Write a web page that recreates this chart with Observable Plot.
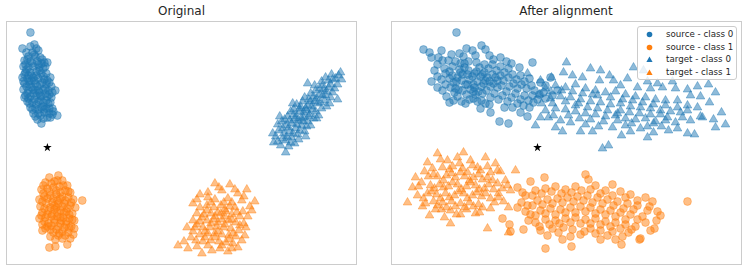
<!DOCTYPE html>
<html><head><meta charset="utf-8">
<script src="https://cdn.jsdelivr.net/npm/d3@7"></script>
<script src="https://cdn.jsdelivr.net/npm/@observablehq/plot@0.6"></script>
<style>
body{margin:0;background:#fff;font-family:"DejaVu Sans",sans-serif;}
#wrap{position:relative;width:748px;height:271px;overflow:hidden;background:#fff}
.title{position:absolute;top:4px;font-size:12px;line-height:14px;text-align:center;color:#262626;white-space:nowrap}
.panel{position:absolute;top:20px}
.panel svg{display:block;background:transparent}
#legend{position:absolute;left:637px;top:26px;width:98px;height:52px;border:1px solid #cccccc;border-radius:3px;background:rgba(255,255,255,0.8);font-size:8.7px;color:#262626}
#legend .row{position:absolute;left:0;height:12px;line-height:12px;white-space:nowrap}
#legend svg{position:absolute;left:8px;top:3px}
#legend span{position:absolute;left:28px;top:0}
</style></head><body>
<div id="wrap"></div>
<script>
const titles = ["Original", "After alignment"];
const legendLabels = ["source - class 0", "source - class 1", "target - class 0", "target - class 1"];
// axis limits (data units)
const origXLim = [-41, 310], origYLim = [-117, 126];
const alignXLim = [-146, 204], alignYLim = [-117, 126];
const starPoint = [[0, 0]];

// ---- Original ----
const origSource0 = [[-17,115],[-25,99],[-13,103],[-17,101],[-21,95],[-15,95],[-9,97],[-19,91],[-12,91],[-7,90],[-23,87],[-17,86],[-10,86],[-3,85],[0,85],[-24,81],[-19,80],[-14,81],[-8,80],[-4,79],[-22,75],[-17,75],[-11,76],[-6,74],[-1,74],[3,70],[-25,70],[-20,69],[-14,70],[-9,69],[-3,68],[-23,64],[-18,63],[-12,64],[-7,63],[-1,63],[4,61],[-24,58],[-19,57],[-14,58],[-9,57],[-4,58],[1,57],[8,57],[-22,52],[-17,51],[-11,52],[-6,51],[0,51],[4,50],[-20,46],[-15,45],[-9,46],[-4,45],[1,44],[-17,40],[-12,39],[-6,40],[-1,39],[5,39],[-14,34],[-9,34],[-3,35],[2,34],[6,36],[10,32],[-10,28],[-6,24],[0,30],[5,33],[-12,57],[-16,67],[-7,52],[-11,72],[-19,49],
  [-20,88],[-13,93],[-5,88],[-22,83],[-15,84],[-9,83],[-2,81],[-21,78],[-16,72],[-8,77],[-4,71],[0,67],[-23,73],[-18,66],[-13,67],[-5,65],[2,65],[-21,61],[-16,60],[-10,61],[-2,59],[5,55],[-20,54],[-14,54],[-8,55],[-2,54],[2,53],[-23,50],[-13,48],[-7,47],[-1,47],[3,45],[-18,44],[-11,43],[-4,41],[-15,38],[-9,38],[-3,38],[2,39],[-12,31],[-7,32],[-4,29],[3,30],[-24,66],[-11,99],[-6,84],[-19,72]];
const origSource1 = [[11,-28],[2,-30],[-2,-35],[7,-34],[15,-33],[20,-38],[-6,-42],[0,-41],[6,-40],[12,-39],[18,-43],[23,-45],[-8,-52],[-3,-49],[3,-48],[9,-47],[15,-49],[21,-50],[26,-52],[35,-53],[-7,-59],[-1,-56],[5,-55],[11,-56],[17,-56],[23,-58],[28,-60],[-5,-65],[1,-63],[7,-62],[13,-63],[19,-64],[25,-66],[-8,-71],[-2,-70],[4,-69],[10,-69],[16,-70],[22,-71],[27,-73],[-5,-77],[1,-76],[7,-75],[13,-76],[19,-77],[24,-79],[-5,-83],[3,-82],[9,-82],[15,-84],[21,-85],[27,-81],[3,-89],[11,-88],[15,-91],[23,-91],[2,-100],[8,-99],[20,-97],[10,-53],[5,-67],[14,-73],[0,-79],[9,-60],
  [4,-36],[10,-33],[-4,-38],[16,-38],[9,-43],[2,-44],[-4,-46],[21,-44],[13,-45],[6,-51],[-5,-54],[18,-53],[24,-55],[0,-51],[13,-51],[7,-58],[-3,-61],[15,-59],[20,-61],[3,-60],[-6,-68],[10,-65],[22,-67],[17,-65],[0,-67],[7,-72],[13,-70],[25,-72],[-3,-74],[19,-74],[4,-78],[11,-79],[17,-80],[-2,-81],[22,-80],[6,-85],[12,-86],[18,-88],[8,-92],[26,-87]];
const origTarget0 = [[294,75],[289,69],[279,70],[284,63],[276,62],[261,64],[291,48],[286,55],[280,56],[273,53],[267,51],[262,48],[256,46],[250,43],[246,44],[278,47],[271,44],[265,41],[259,39],[253,36],[247,33],[241,31],[233,31],[283,44],[275,39],[269,36],[263,33],[257,30],[251,27],[245,24],[239,22],[231,23],[267,29],[261,26],[255,22],[249,19],[243,16],[237,14],[229,11],[258,16],[251,13],[245,10],[239,7],[227,5],[242,1],[239,-5],[234,2],[248,4],[272,32],[264,46],[279,52],[257,35],[250,31],[264,22],[253,39],[288,59],[269,57],[243,27],[236,19],[255,29],[273,59],[282,67],[264,54],
  [285,73],[275,66],[268,62],[282,60],[291,63],[277,58],[270,49],[258,50],[284,50],[276,52],[261,42],[268,46],[254,41],[247,38],[260,37],[266,38],[274,45],[280,41],[244,36],[238,28],[248,29],[256,26],[262,31],[270,29],[242,20],[250,23],[235,26],[232,17],[240,11],[253,17],[260,21],[246,14],[231,6],[236,9],[252,8],[244,5],[226,14],[259,11],[286,68],[295,68],[292,72]];
const origTarget1 = [[168,-36],[183,-37],[200,-42],[153,-47],[175,-43],[191,-46],[208,-54],[146,-56],[161,-50],[168,-52],[181,-51],[195,-53],[203,-59],[153,-60],[160,-58],[167,-60],[174,-58],[188,-60],[196,-64],[150,-66],[157,-67],[164,-66],[171,-65],[179,-64],[185,-67],[193,-69],[201,-69],[146,-73],[153,-74],[160,-73],[167,-72],[175,-72],[182,-73],[189,-75],[197,-76],[148,-80],[156,-80],[163,-80],[170,-79],[177,-80],[184,-81],[192,-83],[146,-84],[153,-87],[161,-86],[168,-86],[175,-87],[182,-88],[189,-89],[198,-88],[131,-98],[141,-101],[149,-93],[156,-94],[164,-93],[172,-94],[179,-95],[186,-96],[155,-106],[165,-103],[181,-104],[191,-100],[173,-101],[178,-69],[171,-75],[183,-59],
  [172,-40],[188,-42],[161,-45],[197,-49],[150,-52],[177,-55],[164,-55],[185,-55],[190,-65],[178,-62],[160,-63],[155,-70],[168,-69],[185,-72],[174,-66],[199,-80],[186,-86],[171,-84],[158,-84],[150,-77],[164,-76],[178,-77],[193,-78],[144,-90],[158,-90],[168,-90],[182,-92],[195,-93],[161,-98],[175,-98],[137,-94],[150,-99],[185,-101],[205,-63],[140,-80]];

// ---- After alignment ----
const alignSource0 = [[-81,115],[-114,98],[-106,90],[-96,97],[-89,87],[-78,94],[-71,99],[-65,97],[-56,102],[-48,92],[-37,90],[-26,84],[-5,85],[-100,83],[-93,79],[-85,81],[-77,84],[-69,86],[-61,85],[-53,83],[-45,83],[-37,81],[-29,79],[-100,71],[-92,74],[-85,72],[-77,75],[-69,77],[-61,76],[-53,75],[-45,73],[-37,72],[-29,70],[-21,68],[-13,66],[3,65],[13,70],[-100,60],[-92,63],[-84,65],[-76,67],[-68,68],[-60,66],[-52,67],[-44,64],[-36,62],[-28,61],[-20,59],[-11,59],[-3,57],[6,55],[15,52],[-91,51],[-83,55],[-75,57],[-67,58],[-59,56],[-51,57],[-43,54],[-35,52],[-26,50],[-17,48],[-9,47],[0,48],[8,49],[-76,46],[-68,48],[-60,46],[-52,44],[-25,40],[-14,42],[-4,45],[-10,31],[-47,35],[-38,26],[-29,24],[-84,47],[-62,53],[-72,63],[-56,61],[-80,70],[-65,71],[-49,79],[-73,80],[-82,59],[-64,63],[-47,61],[-57,71],[-75,73],[-40,67],
  [-108,95],[-86,93],[-74,91],[-62,92],[-52,98],[-44,88],[-31,86],[-18,80],[-95,87],[-82,86],[-73,84],[-58,80],[-41,77],[-33,75],[-25,73],[-17,72],[-8,69],[-103,77],[-88,76],[-78,78],[-70,73],[-63,74],[-55,73],[-50,70],[-42,70],[-34,67],[-24,64],[-16,63],[-6,62],[8,62],[-96,68],[-88,69],[-81,66],[-70,63],[-63,60],[-54,64],[-48,66],[-40,60],[-31,56],[-22,54],[-13,52],[-5,52],[2,53],[20,57],[-95,57],[-87,60],[-79,58],[-71,53],[-64,56],[-55,54],[-47,50],[-39,48],[-30,46],[-20,44],[-88,45],[-80,51],[-72,44],[-64,49],[-56,47],[-48,43],[-57,39],[-33,40],[-8,40],[-17,35],[-106,66],[-99,90]];
const alignSource1 = [[150,-54],[8,-101],[34,-99],[84,-97],[102,-92],[78,-92],[-35,-71],[-27,-84],[48,-27],[7,-30],[75,-37],[120,-64],[117,-81],[51,-32],[-7,-34],[-20,-40],[93,-47],[108,-50],[115,-54],[103,-91],[33,-89],[43,-87],[-14,-82],[119,-73],[-12,-48],[-2,-43],[8,-41],[18,-39],[28,-42],[38,-39],[58,-38],[68,-43],[83,-44],[-10,-58],[0,-53],[10,-52],[20,-51],[30,-50],[40,-49],[50,-48],[60,-50],[70,-52],[80,-54],[90,-56],[100,-58],[-7,-67],[3,-63],[13,-61],[23,-62],[33,-60],[43,-59],[53,-60],[63,-62],[73,-63],[83,-65],[93,-67],[105,-69],[-2,-75],[8,-72],[18,-73],[28,-71],[38,-70],[48,-72],[58,-71],[68,-74],[78,-75],[88,-77],[98,-79],[3,-83],[15,-81],[26,-80],[53,-81],[63,-83],[75,-84],[91,-85],[108,-75],
  [-15,-45],[-5,-48],[4,-46],[14,-44],[24,-46],[34,-45],[44,-43],[53,-42],[63,-46],[75,-48],[88,-50],[100,-53],[112,-59],[-16,-55],[-5,-58],[5,-57],[15,-56],[25,-55],[36,-54],[46,-53],[55,-55],[65,-56],[76,-58],[86,-61],[96,-62],[110,-63],[-12,-64],[-2,-68],[8,-66],[18,-67],[28,-65],[38,-65],[48,-64],[58,-66],[68,-67],[78,-69],[88,-72],[100,-72],[-9,-73],[2,-79],[12,-77],[22,-76],[33,-75],[43,-76],[53,-76],[63,-77],[73,-79],[83,-81],[94,-82],[10,-88],[21,-85],[35,-82],[47,-84],[58,-86],[70,-88],[85,-89],[25,-92],[63,-92],[-20,-60],[123,-68],[113,-83],[-28,-77]];
const alignTarget0 = [[-10,74],[29,85],[53,79],[63,77],[26,75],[96,80],[106,77],[62,67],[76,67],[90,69],[100,60],[113,59],[125,60],[138,59],[171,63],[150,42],[165,30],[157,13],[184,35],[188,23],[140,47],[116,24],[116,15],[93,16],[65,-1],[71,2],[25,16],[43,16],[-2,22],[8,59],[18,62],[28,60],[38,63],[48,59],[58,57],[68,55],[78,56],[88,53],[98,51],[108,50],[118,48],[128,47],[13,49],[23,51],[33,50],[43,48],[53,46],[63,45],[73,43],[83,44],[93,41],[103,40],[113,39],[123,37],[133,36],[143,35],[8,37],[18,39],[28,38],[38,36],[48,34],[58,33],[68,31],[78,32],[88,29],[98,28],[108,29],[118,26],[128,27],[138,25],[153,27],[23,27],[33,25],[48,23],[61,21],[75,20],[88,22],[103,19],[131,17],[11,30],[41,44],[55,53],[83,37],[123,33],[163,51],[153,52],
  [3,67],[14,70],[35,72],[45,70],[72,72],[83,62],[110,66],[120,64],[135,66],[150,58],[160,61],[178,55],[2,53],[13,56],[24,57],[35,56],[45,54],[60,52],[73,50],[85,48],[95,47],[105,45],[116,43],[128,42],[140,40],[150,37],[160,40],[172,45],[4,44],[15,44],[28,46],[38,42],[50,40],[60,39],[70,37],[80,34],[92,35],[102,34],[113,33],[130,30],[145,30],[163,31],[176,28],[3,30],[16,32],[31,32],[42,29],[53,28],[66,26],[80,27],[94,24],[110,21],[124,21],[140,19],[150,14],[178,20],[18,20],[55,16],[84,12],[110,10]];
const alignTarget1 = [[-100,-6],[-74,-5],[-90,-13],[-80,-10],[-52,-10],[-122,-30],[-130,-55],[-115,-59],[-108,-68],[-87,-76],[-50,-81],[-29,-85],[-22,-23],[-37,-24],[-29,-60],[-47,-61],[-62,-66],[-96,-62],[-77,-67],[-39,-50],[-27,-43],[-32,-33],[-105,-21],[-95,-20],[-85,-19],[-75,-21],[-65,-18],[-57,-23],[-47,-25],[-109,-29],[-100,-29],[-91,-28],[-82,-30],[-73,-29],[-64,-30],[-55,-32],[-45,-33],[-107,-38],[-98,-37],[-89,-39],[-80,-37],[-71,-39],[-62,-38],[-53,-41],[-44,-42],[-35,-41],[-110,-46],[-101,-47],[-92,-46],[-83,-48],[-74,-46],[-65,-48],[-56,-49],[-47,-51],[-104,-54],[-95,-55],[-86,-54],[-77,-56],[-68,-55],[-59,-57],[-102,-62],[-87,-63],[-71,-62],[-119,-39],[-114,-51],[-67,-13],[-42,-16],
  [-110,-15],[-97,-12],[-88,-22],[-78,-16],[-70,-25],[-60,-20],[-50,-19],[-40,-23],[-113,-24],[-104,-27],[-94,-33],[-86,-26],[-77,-25],[-68,-33],[-59,-27],[-50,-30],[-40,-36],[-30,-38],[-116,-35],[-103,-41],[-94,-40],[-85,-35],[-76,-42],[-67,-35],[-58,-42],[-49,-37],[-39,-46],[-112,-56],[-106,-44],[-97,-51],[-88,-50],[-79,-44],[-70,-51],[-61,-45],[-52,-46],[-43,-55],[-100,-58],[-91,-60],[-82,-59],[-73,-60],[-64,-59],[-55,-60],[-81,-67],[-93,-70],[-58,-65],[-120,-48],[-125,-40],[-34,-54]];

const BLUE = "#1f77b4", ORANGE = "#ff7f0e";
const toRows = a => a.map(([x, y]) => ({x, y}));

function scatterMarks(pts, color, symbol) {
  const tri = symbol === "triangle";
  return Plot.dot(toRows(pts), {
    x: "x", y: "y", symbol, r: tri ? 3.2 : 3.9,
    fill: color, stroke: color, fillOpacity: 0.5, strokeOpacity: 0.5, strokeWidth: 0.8
  });
}

function panel(sets, xLim, yLim) {
  return Plot.plot({
    width: 352, height: 245, margin: 1,
    x: {domain: xLim, axis: null},
    y: {domain: yLim, axis: null},
    marks: [
      scatterMarks(sets[0], BLUE, "circle"),
      scatterMarks(sets[1], ORANGE, "circle"),
      scatterMarks(sets[2], BLUE, "triangle"),
      scatterMarks(sets[3], ORANGE, "triangle"),
      Plot.dot(toRows(starPoint), {x: "x", y: "y", symbol: "star", fill: "black", r: 2.7}),
      Plot.frame({stroke: "#cccccc", strokeWidth: 1})
    ]
  });
}

const wrap = document.getElementById("wrap");
const panels = [
  {left: 5, frameLeft: 6, frameW: 351, sets: [origSource0, origSource1, origTarget0, origTarget1], xLim: origXLim, yLim: origYLim},
  {left: 390, frameLeft: 391, frameW: 350, sets: [alignSource0, alignSource1, alignTarget0, alignTarget1], xLim: alignXLim, yLim: alignYLim}
];
panels.forEach((p, i) => {
  const t = document.createElement("div");
  t.className = "title";
  t.style.left = p.frameLeft + "px";
  t.style.width = p.frameW + "px";
  t.textContent = titles[i];
  wrap.appendChild(t);
  const d = document.createElement("div");
  d.className = "panel";
  d.style.left = p.left + "px";
  d.appendChild(panel(p.sets, p.xLim, p.yLim));
  wrap.appendChild(d);
});

// legend
const lg = document.createElement("div");
lg.id = "legend";
const legendStyle = [[BLUE, "circle"], [ORANGE, "circle"], [BLUE, "triangle"], [ORANGE, "triangle"]];
legendLabels.forEach((lab, i) => {
  const row = document.createElement("div");
  row.className = "row";
  row.style.top = (1 + i * 12.6) + "px";
  const [c, s] = legendStyle[i];
  const shape = s === "circle"
    ? `<circle cx="3.5" cy="3.5" r="2.8" fill="${c}"/>`
    : `<path d="M3.5,0.4L6.6,6L0.4,6Z" fill="${c}"/>`;
  row.innerHTML = `<svg width="7" height="7">${shape}</svg><span>${lab}</span>`;
  lg.appendChild(row);
});
wrap.appendChild(lg);
</script>
</body></html>
